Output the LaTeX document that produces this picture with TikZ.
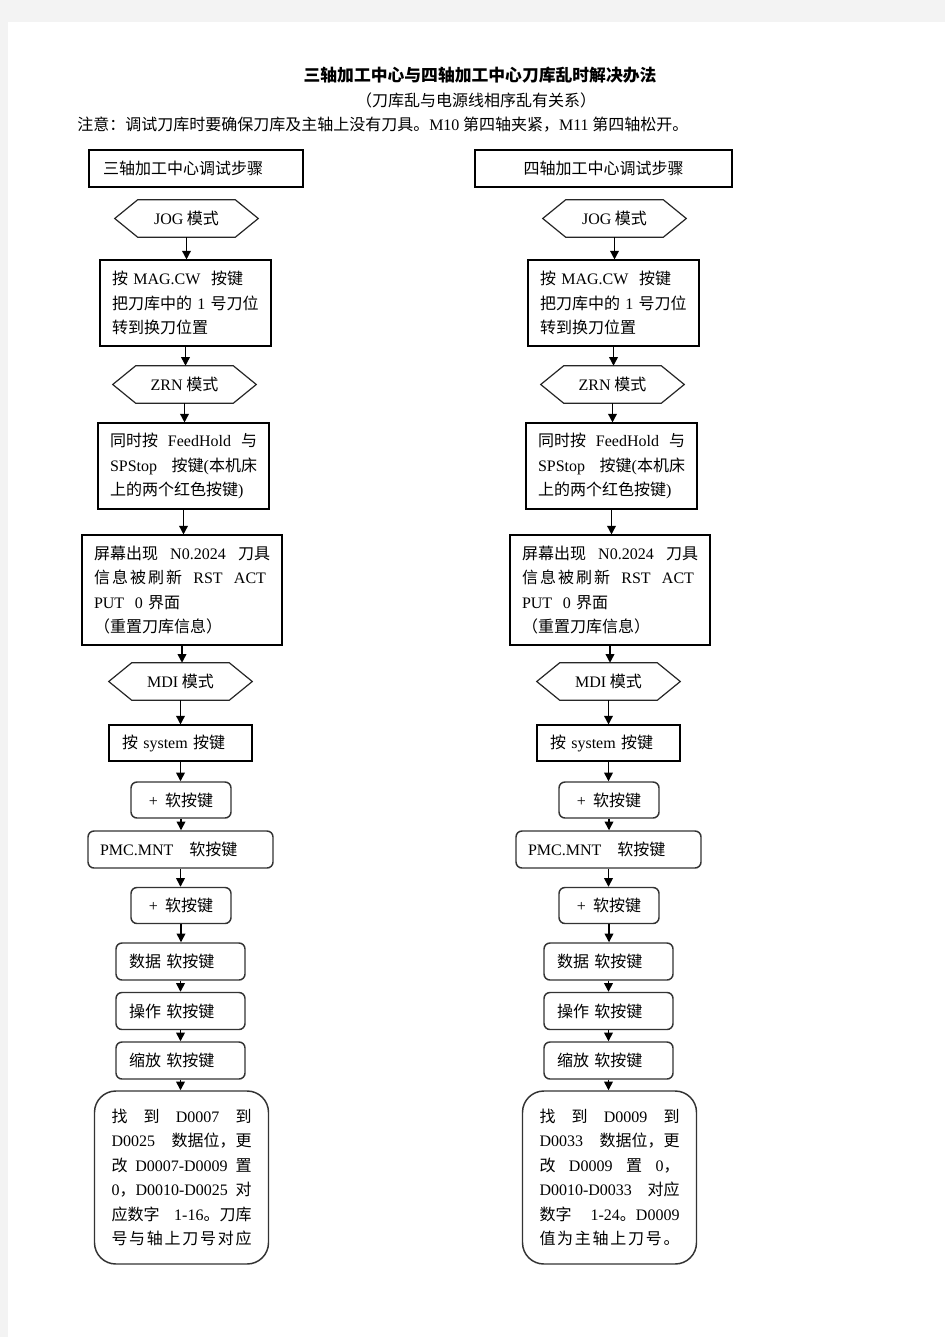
\documentclass[tikz,border=0pt]{standalone}
\usepackage{fontspec}
\setmainfont{Noto Sans CJK SC}
\newfontfamily\lat{Liberation Serif}
\newcommand\en[1]{{\lat #1}}
\newcommand\jl[2]{\leavevmode\hbox to #1{#2}}
\usetikzlibrary{arrows.meta}
\definecolor{pagegray}{HTML}{F3F3F3}
\tikzset{
  rbox/.style={draw=black, line width=0.8pt, inner ysep=0pt, align=left},
  rrbox/.style={draw=black!80, line width=1.1pt, rounded corners=4.5pt, inner sep=0pt, align=center},
  bigbox/.style={draw=black!80, line width=1.1pt, rounded corners=16pt, inner ysep=0pt, inner xsep=12.75pt, text width=105pt, align=left, minimum height=129.75pt},
  hexbox/.style={inner sep=0pt, minimum width=107.25pt, minimum height=27.75pt},
  hexline/.style={draw=black!85, line width=0.9pt},
  arr/.style={-{Triangle[length=6.5pt,width=6.5pt]}, line width=1.1pt}
}
\newcommand\hexnode[3]{%
  \node[hexbox] (#1) at (#2) {#3};
  \draw[hexline] (#1.west) -- ([xshift=17.25pt]#1.north west) -- ([xshift=-17.25pt]#1.north east) -- (#1.east) -- ([xshift=-17.25pt]#1.south east) -- ([xshift=17.25pt]#1.south west) -- cycle;}
\begin{document}
\begin{tikzpicture}[x=0.75pt, y={(0pt,-0.75pt)}, font=\fontsize{12pt}{18.4pt}\selectfont]
\useasboundingbox (0,0) rectangle (945,1337);
\fill[pagegray] (0,0) rectangle (945,1337);
\fill[white] (8,22) rectangle (945,1337);

% titles
\node[inner sep=0pt, font=\fontsize{12.6pt}{16pt}\selectfont\bfseries] (title) at (480,75) {三轴加工中心与四轴加工中心刀库乱时解决办法};
\node[inner sep=0pt] (sub) at (476,100) {（刀库乱与电源线相序乱有关系）};
\node[inner sep=0pt, anchor=west] (note) at (77,125) {注意：调试刀库时要确保刀库及主轴上没有刀具。\en{M10} 第四轴夹紧，\en{M11} 第四轴松开。};

% ===== left column =====
\node[rbox, minimum height=27.75pt, inner xsep=10.5pt, text width=139.5pt] (hL) at (196,168.5) {三轴加工中心调试步骤};
\hexnode{jogL}{186.5,218.5}{\en{JOG} 模式}
\node[rbox, minimum height=64.5pt, inner xsep=9pt, text width=110.25pt] (b2L) at (185.5,303) {按 \en{MAG.CW}\ \ 按键\\把刀库中的 \en{1} 号刀位\\转到换刀位置};
\hexnode{zrnL}{184.5,384.5}{\en{ZRN} 模式}
\node[rbox, minimum height=64.5pt, inner xsep=9pt, text width=110.25pt] (b4L) at (183.5,466) {\jl{110.25pt}{同时按\hfill\en{FeedHold}\hfill 与}\\\jl{110.25pt}{\en{SPStop}\hfill 按键\en{(}本机床}\\上的两个红色按键\en{)}};
\node[rbox, minimum height=82.5pt, inner xsep=9pt, text width=132pt] (b5L) at (182,590) {\jl{132pt}{屏幕出现\hfill\en{N0.2024}\hfill 刀具}\\\jl{132pt}{信\hskip1.5pt 息\hskip1.5pt 被\hskip1.5pt 刷\hskip1.5pt 新\hfill\en{RST}\hfill\en{ACT}\hskip3pt}\\\en{PUT\ \ 0} 界面\\（重置刀库信息）};
\hexnode{mdiL}{180.5,681.5}{\en{MDI} 模式}
\node[rbox, minimum height=27pt, inner xsep=9.75pt, text width=87.75pt] (sysL) at (180.5,743) {按 \en{system} 按键};
\node[rrbox, minimum width=75pt, minimum height=27pt] (p1L) at (181,800) {\en{+}\ \ 软按键};
\node[rrbox, minimum height=27.75pt, inner xsep=9pt, text width=120.75pt, align=left] (pmcL) at (180.5,849.5) {\en{PMC.MNT}\ \ \ 软按键};
\node[rrbox, minimum width=75pt, minimum height=27pt] (p2L) at (181,905.5) {\en{+}\ \ 软按键};
\node[rrbox, minimum height=27.75pt, inner xsep=9.75pt, text width=77.25pt, align=left] (sjL) at (180.5,961.5) {数据\ 软按键};
\node[rrbox, minimum height=27.75pt, inner xsep=9.75pt, text width=77.25pt, align=left] (czL) at (180.5,1011) {操作\ 软按键};
\node[rrbox, minimum height=27.75pt, inner xsep=9.75pt, text width=77.25pt, align=left] (sfL) at (180.5,1060.5) {缩放\ 软按键};
\node[bigbox] (bigL) at (181.5,1177.5) {\jl{105pt}{找\hfill 到\hfill\en{D0007}\hfill 到}\\\jl{105pt}{\en{D0025}\hfill 数据位，更}\\\jl{105pt}{改\hfill\en{D0007-D0009}\hfill 置}\\\jl{105pt}{\en{0}，\en{D0010-D0025}\hfill 对}\\\jl{105pt}{应数字\hfill\en{1-16}。刀库}\\\jl{105pt}{号\hfil 与\hfil 轴\hfil 上\hfil 刀\hfil 号\hfil 对\hfil 应}};

\draw[arr] (jogL.south) -- (jogL.south |- b2L.north);
\draw[arr] (b2L.south) -- (b2L.south |- zrnL.north);
\draw[arr] (zrnL.south) -- (zrnL.south |- b4L.north);
\draw[arr] (b4L.south) -- (b4L.south |- b5L.north);
\draw[arr] (b5L.south) -- (b5L.south |- mdiL.north);
\draw[arr] (mdiL.south) -- (mdiL.south |- sysL.north);
\draw[arr] (sysL.south) -- (sysL.south |- p1L.north);
\draw[arr] (p1L.south) -- (p1L.south |- pmcL.north);
\draw[arr] (pmcL.south) -- (pmcL.south |- p2L.north);
\draw[arr] (p2L.south) -- (p2L.south |- sjL.north);
\draw[arr] (sjL.south) -- (sjL.south |- czL.north);
\draw[arr] (czL.south) -- (czL.south |- sfL.north);
\draw[arr] (sfL.south) -- (sfL.south |- bigL.north);

% ===== right column =====
\node[rbox, minimum width=192.75pt, minimum height=27.75pt, align=center] (hR) at (603.5,168.5) {四轴加工中心调试步骤};
\hexnode{jogR}{614.5,218.5}{\en{JOG} 模式}
\node[rbox, minimum height=64.5pt, inner xsep=9pt, text width=110.25pt] (b2R) at (613.5,303) {按 \en{MAG.CW}\ \ 按键\\把刀库中的 \en{1} 号刀位\\转到换刀位置};
\hexnode{zrnR}{612.5,384.5}{\en{ZRN} 模式}
\node[rbox, minimum height=64.5pt, inner xsep=9pt, text width=110.25pt] (b4R) at (611.5,466) {\jl{110.25pt}{同时按\hfill\en{FeedHold}\hfill 与}\\\jl{110.25pt}{\en{SPStop}\hfill 按键\en{(}本机床}\\上的两个红色按键\en{)}};
\node[rbox, minimum height=82.5pt, inner xsep=9pt, text width=132pt] (b5R) at (610,590) {\jl{132pt}{屏幕出现\hfill\en{N0.2024}\hfill 刀具}\\\jl{132pt}{信\hskip1.5pt 息\hskip1.5pt 被\hskip1.5pt 刷\hskip1.5pt 新\hfill\en{RST}\hfill\en{ACT}\hskip3pt}\\\en{PUT\ \ 0} 界面\\（重置刀库信息）};
\hexnode{mdiR}{608.5,681.5}{\en{MDI} 模式}
\node[rbox, minimum height=27pt, inner xsep=9.75pt, text width=87.75pt] (sysR) at (608.5,743) {按 \en{system} 按键};
\node[rrbox, minimum width=75pt, minimum height=27pt] (p1R) at (609,800) {\en{+}\ \ 软按键};
\node[rrbox, minimum height=27.75pt, inner xsep=9pt, text width=120.75pt, align=left] (pmcR) at (608.5,849.5) {\en{PMC.MNT}\ \ \ 软按键};
\node[rrbox, minimum width=75pt, minimum height=27pt] (p2R) at (609,905.5) {\en{+}\ \ 软按键};
\node[rrbox, minimum height=27.75pt, inner xsep=9.75pt, text width=77.25pt, align=left] (sjR) at (608.5,961.5) {数据\ 软按键};
\node[rrbox, minimum height=27.75pt, inner xsep=9.75pt, text width=77.25pt, align=left] (czR) at (608.5,1011) {操作\ 软按键};
\node[rrbox, minimum height=27.75pt, inner xsep=9.75pt, text width=77.25pt, align=left] (sfR) at (608.5,1060.5) {缩放\ 软按键};
\node[bigbox] (bigR) at (609.5,1177.5) {\jl{105pt}{找\hfill 到\hfill\en{D0009}\hfill 到}\\\jl{105pt}{\en{D0033}\hfill 数据位，更}\\\jl{105pt}{改\hfill\en{D0009}\hfill 置\hfill\en{0}，}\\\jl{105pt}{\en{D0010-D0033}\hfill 对应}\\\jl{105pt}{数字\hfill\en{1-24}。\en{D0009}}\\\jl{105pt}{值\hfil 为\hfil 主\hfil 轴\hfil 上\hfil 刀\hfil 号\hfil 。}};

\draw[arr] (jogR.south) -- (jogR.south |- b2R.north);
\draw[arr] (b2R.south) -- (b2R.south |- zrnR.north);
\draw[arr] (zrnR.south) -- (zrnR.south |- b4R.north);
\draw[arr] (b4R.south) -- (b4R.south |- b5R.north);
\draw[arr] (b5R.south) -- (b5R.south |- mdiR.north);
\draw[arr] (mdiR.south) -- (mdiR.south |- sysR.north);
\draw[arr] (sysR.south) -- (sysR.south |- p1R.north);
\draw[arr] (p1R.south) -- (p1R.south |- pmcR.north);
\draw[arr] (pmcR.south) -- (pmcR.south |- p2R.north);
\draw[arr] (p2R.south) -- (p2R.south |- sjR.north);
\draw[arr] (sjR.south) -- (sjR.south |- czR.north);
\draw[arr] (czR.south) -- (czR.south |- sfR.north);
\draw[arr] (sfR.south) -- (sfR.south |- bigR.north);
\end{tikzpicture}
\end{document}
